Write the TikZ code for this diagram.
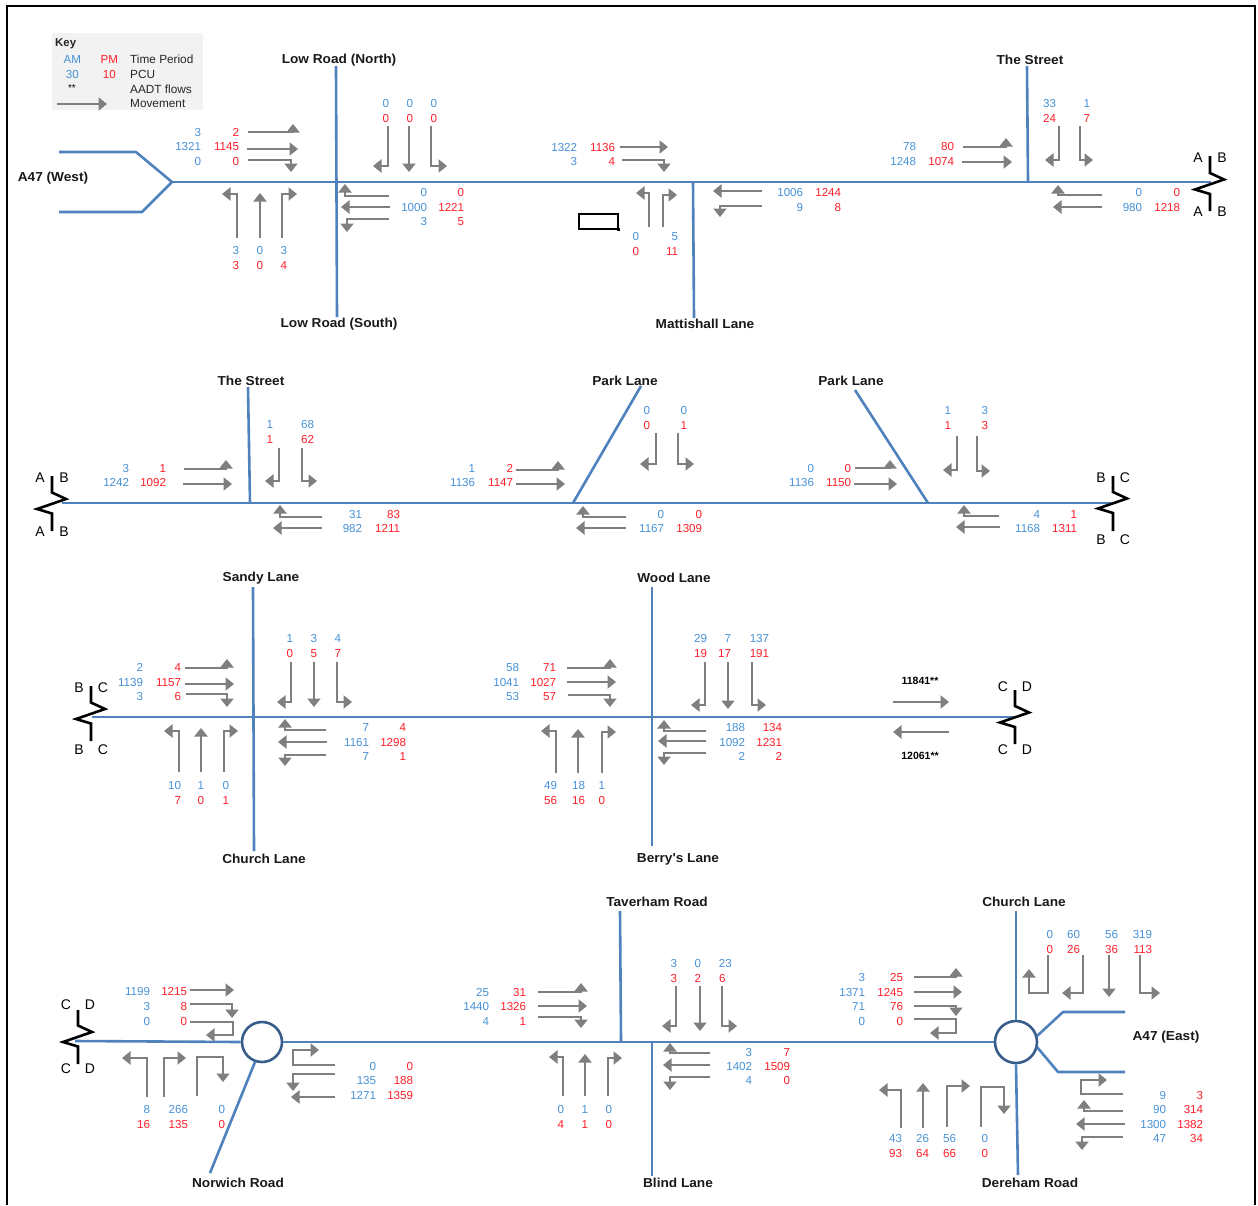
\documentclass[tikz,border=0pt]{standalone}
\usepackage{fontspec}
\usepackage{tikz}
\usetikzlibrary{arrows.meta, positioning}
\setmainfont{Liberation Sans}
\newfontfamily\roadfont[FakeStretch=1.05]{Liberation Sans}
\definecolor{roadblue}{RGB}{79,129,189}
\definecolor{ringblue}{RGB}{56,93,138}
\definecolor{amblue}{RGB}{70,145,215}
\definecolor{pmred}{RGB}{255,30,40}
\definecolor{movegray}{RGB}{127,127,127}

\begin{document}
\begin{tikzpicture}[
    x=1pt, y=-1pt,
    road/.style={draw=roadblue, line width=2.6pt, line join=round},
    ring/.style={circle, draw=ringblue, line width=2.6pt, minimum size=40pt, inner sep=0pt},
    mov/.style={draw=movegray, line width=2.8pt, -{Triangle[length=8.5pt, width=13pt]}},
    zig/.style={draw=black, line width=2.6pt, line join=miter},
    am/.style={text=amblue, inner sep=0pt, xshift=0.3pt, yshift=-0.6pt, font=\fontsize{11.6}{12}\selectfont},
    pm/.style={text=pmred, inner sep=0pt, xshift=0.3pt, yshift=-0.6pt, font=\fontsize{11.6}{12}\selectfont},
    keytext/.style={text=black!85, inner sep=0pt, anchor=west, font=\fontsize{11.8}{12}\selectfont},
    breaktext/.style={inner sep=0pt, font=\fontsize{14}{14}\selectfont},
    roadname/.style={inner sep=0pt, text=black!90, yshift=-1pt, font=\roadfont\bfseries\fontsize{13}{14}\selectfont},
    flowtext/.style={inner sep=0pt, font=\bfseries\fontsize{10.5}{12}\selectfont}
]
\useasboundingbox (0,0) rectangle (1258,1205);

% Frame
\draw[line width=2.2pt] (7,1205) -- (7,6) -- (1255,6) -- (1255,1205);

% Key
\fill[black!5] (52,33) rectangle (203,110);
\node[keytext, yshift=-1pt, font=\bfseries\fontsize{11.4}{12}\selectfont] (keyhead) at (55,43) {Key};
\node[am] (keyam) at (72,59) {AM};
\node[pm] (keypm) at (109,59) {PM};
\node[keytext] (keyperiod) at (130,59) {Time Period};
\node[am] (keyamv) at (72,74) {30};
\node[pm] (keypmv) at (109,74) {10};
\node[keytext] (keypcu) at (130,74) {PCU};
\node[inner sep=0pt, font=\fontsize{10}{10}\selectfont] (keystar) at (72,88) {**};
\node[keytext] (keyaadt) at (130,89) {AADT flows};
\node[keytext] (keymove) at (130,103) {Movement};
\draw[mov] (57,104) -- (107,104);

% Roads, first row
\draw[road] (59,152) -- (136,152) -- (172,182) -- (142,212) -- (59,212);
\draw[road] (172,182) -- (1211,182);
\draw[road] (336,66) -- (337,317);
\draw[road] (693,182) -- (694,318);
\draw[road] (1027,66) -- (1028,182);
% Roads, second row
\draw[road] (62,503) -- (1113,503);
\draw[road] (248,387) -- (250,503);
\draw[road] (641,386) -- (573,503);
\draw[road] (855,390) -- (928,503);
% Roads, third row
\draw[road] (92,717) -- (1014,717);
\draw[road] (253,587) -- (254,851);
\draw[road] (652,587) -- (652,846);
% Roads, fourth row
\node[ring] (ringwest) at (262,1042) {};
\node[ring, minimum size=42pt] (ringeast) at (1016,1042) {};
\draw[road] (75,1041) -- (ringwest.west);
\draw[road] (ringwest.east) -- (ringeast.west);
\draw[road] (620,911) -- (621,1041);
\draw[road] (652,1041) -- (652,1176);
\draw[road] (1016,911) -- (ringeast.north);
\draw[road] (ringeast.south) -- (1018,1175);
\draw[road] (255,1062) -- (210,1173);
\draw[road] (1037,1036) -- (1063,1012) -- (1125,1012);
\draw[road] (1037,1047) -- (1058,1072) -- (1125,1072);

% Road breaks
\foreach \cx/\cy/\top/\bot/\ly/\lz/\l/\r in {1210/184.5/156/211/158/212/A/B, 52/504/476/531/478/532/A/B,
    1113/503.5/476/531/478/540/B/C, 91/714/686/741/688/750/B/C,
    1015/717.5/690/744/687/750/C/D, 78/1037/1010/1064/1005/1069/C/D} {
  \draw[zig] (\cx,\top) -- (\cx,\cy-11.5) -- (\cx+14,\cy-5) -- (\cx-15,\cy+5) -- (\cx,\cy+9.5) -- (\cx,\bot);
  \node[breaktext] (brk\cx tl) at (\cx-12,\ly) {\l};
  \node[breaktext] (brk\cx tr) at (\cx+12,\ly) {\r};
  \node[breaktext] (brk\cx bl) at (\cx-12,\lz) {\l};
  \node[breaktext] (brk\cx br) at (\cx+12,\lz) {\r};
}

% Road names
\foreach \x/\y/\t in {339/59/Low Road (North), 339/323/Low Road (South), 705/323/Mattishall Lane,
    1030/59/The Street, 53/177/A47 (West), 251/380/The Street, 625/380/Park Lane, 851/380/Park Lane,
    261/577/Sandy Lane, 264/858/Church Lane, 674/577/Wood Lane, 678/858/Berry's Lane,
    657/901/Taverham Road, 1024/901/Church Lane, 1166/1036/A47 (East), 238/1182/Norwich Road,
    678/1182/Blind Lane, 1030/1182/Dereham Road} {
  \node[roadname] (name\x-\y) at (\x,\y) {\t};
}

% Stray box
\node[draw=black, line width=2pt, minimum width=39pt, minimum height=15pt, inner sep=0pt] (strayb) at (598,221) {};
\fill (strayb.south east) ++(-1.5,-1.5) rectangle ++(3,3);

% Counts read across: AM edge, PM edge, rows
\foreach \xa/\xp/\rows in {
    201/239/{132/3/2,146/1321/1145,161/0/0}, 427/464/{192/0/0,207/1000/1221,221/3/5},
    577/615/{147/1322/1136,161/3/4}, 803/841/{192/1006/1244,207/9/8},
    916/954/{146/78/80,161/1248/1074}, 1142/1180/{192/0/0,207/980/1218},
    129/166/{468/3/1,482/1242/1092}, 362/400/{514/31/83,528/982/1211},
    475/513/{468/1/2,482/1136/1147}, 664/702/{514/0/0,528/1167/1309},
    814/851/{468/0/0,482/1136/1150}, 1040/1077/{514/4/1,528/1168/1311},
    143/181/{667/2/4,682/1139/1157,696/3/6}, 369/406/{727/7/4,742/1161/1298,756/7/1},
    519/556/{667/58/71,682/1041/1027,696/53/57}, 745/782/{727/188/134,742/1092/1231,756/2/2},
    150/187/{991/1199/1215,1006/3/8,1021/0/0}, 376/413/{1066/0/0,1080/135/188,1095/1271/1359},
    489/526/{992/25/31,1006/1440/1326,1021/4/1}, 752/790/{1052/3/7,1066/1402/1509,1080/4/0},
    865/903/{977/3/25,992/1371/1245,1006/71/76,1021/0/0},
    1166/1203/{1095/9/3,1109/90/314,1124/1300/1382,1138/47/34}} {
  \foreach \y/\a/\p in \rows {
    \node[am, anchor=east] (am\xa-\y) at (\xa,\y) {\a};
    \node[pm, anchor=east] (pm\xp-\y) at (\xp,\y) {\p};
  }
}

% Counts read down: edge, AM row, AM, PM
\foreach \x/\y/\a/\p in {389/103/0/0, 413/103/0/0, 437/103/0/0, 239/250/3/3, 263/250/0/0, 287/250/3/4,
    639/236/0/0, 678/236/5/11, 1056/103/33/24, 1090/103/1/7,
    273/424/1/1, 314/424/68/62, 650/410/0/0, 687/410/0/1, 951/410/1/1, 988/410/3/3,
    293/638/1/0, 317/638/3/5, 341/638/4/7, 181/785/10/7, 204/785/1/0, 229/785/0/1,
    707/638/29/19, 731/638/7/17, 769/638/137/191, 557/785/49/56, 585/785/18/16, 605/785/1/0,
    150/1109/8/16, 188/1109/266/135, 225/1109/0/0, 677/963/3/3, 701/963/0/2,
    564/1109/0/4, 588/1109/1/1, 612/1109/0/0,
    1053/934/0/0, 1080/934/60/26, 1118/934/56/36, 1152/934/319/113,
    902/1138/43/93, 929/1138/26/64, 956/1138/56/66, 988/1138/0/0} {
  \node[am, anchor=east] (amd\x-\y) at (\x,\y) {\a};
  \node[pm, anchor=east] (pmd\x-\y) at (\x,\y+15) {\p};
}
\node[am] (amtav) at (725,963) {23};
\node[pm] (pmtav) at (722,978) {6};

% Movements, Low Road
\draw[mov] (248,132) -- (293,132) -- (293,124);
\draw[mov] (247,149) -- (298,149);
\draw[mov] (248,160) -- (291,160) -- (291,172);
\draw[mov] (388,126) -- (388,166) -- (373,166);
\draw[mov] (409,126) -- (409,172);
\draw[mov] (431,126) -- (431,166) -- (447,166);
\draw[mov] (237,238) -- (237,194) -- (222,194);
\draw[mov] (260,238) -- (260,193);
\draw[mov] (282,238) -- (282,194) -- (297,194);
\draw[mov] (389,196) -- (345,196) -- (345,184);
\draw[mov] (390,207) -- (341,207);
\draw[mov] (389,219) -- (347,219) -- (347,232);
% Movements, Mattishall Lane
\draw[mov] (620,147) -- (668,147);
\draw[mov] (622,160) -- (664,160) -- (664,172);
\draw[mov] (649,227) -- (649,193) -- (636,193);
\draw[mov] (663,227) -- (663,195) -- (677,195);
\draw[mov] (762,191) -- (713,191);
\draw[mov] (762,206) -- (720,206) -- (720,217);
% Movements, The Street
\draw[mov] (963,147) -- (1006,147) -- (1006,138);
\draw[mov] (962,162) -- (1012,162);
\draw[mov] (1059,126) -- (1059,160) -- (1045,160);
\draw[mov] (1080,126) -- (1080,160) -- (1093,160);
\draw[mov] (1102,195) -- (1058,195) -- (1058,185);
\draw[mov] (1102,207) -- (1053,207);
% Movements, second row
\draw[mov] (184,469) -- (226,469) -- (226,460);
\draw[mov] (183,484) -- (232,484);
\draw[mov] (279,448) -- (279,481) -- (265,481);
\draw[mov] (302,448) -- (302,481) -- (317,481);
\draw[mov] (322,517) -- (280,517) -- (280,505);
\draw[mov] (322,528) -- (273,528);
\draw[mov] (516,470) -- (558,470) -- (558,461);
\draw[mov] (516,484) -- (565,484);
\draw[mov] (656,433) -- (656,464) -- (640,464);
\draw[mov] (678,433) -- (678,464) -- (694,464);
\draw[mov] (626,517) -- (583,517) -- (583,506);
\draw[mov] (626,528) -- (576,528);
\draw[mov] (855,468) -- (890,468) -- (890,460);
\draw[mov] (854,484) -- (897,484);
\draw[mov] (957,436) -- (957,470) -- (943,470);
\draw[mov] (977,436) -- (977,471) -- (990,471);
\draw[mov] (999,516) -- (964,516) -- (964,505);
\draw[mov] (1000,527) -- (956,527);
% Movements, Sandy Lane
\draw[mov] (185,668) -- (227,668) -- (227,659);
\draw[mov] (185,684) -- (234,684);
\draw[mov] (186,694) -- (227,694) -- (227,707);
\draw[mov] (291,662) -- (291,702) -- (277,702);
\draw[mov] (314,662) -- (314,707);
\draw[mov] (337,662) -- (337,702) -- (352,702);
\draw[mov] (179,772) -- (179,731) -- (164,731);
\draw[mov] (201,772) -- (201,728);
\draw[mov] (224,772) -- (224,731) -- (238,731);
\draw[mov] (326,730) -- (285,730) -- (285,719);
\draw[mov] (327,742) -- (278,742);
\draw[mov] (326,755) -- (285,755) -- (285,766);
% Movements, Wood Lane
\draw[mov] (567,668) -- (610,668) -- (610,659);
\draw[mov] (567,682) -- (616,682);
\draw[mov] (568,695) -- (610,695) -- (610,707);
\draw[mov] (705,662) -- (705,705) -- (691,705);
\draw[mov] (728,662) -- (728,709);
\draw[mov] (752,662) -- (752,705) -- (766,705);
\draw[mov] (556,773) -- (556,731) -- (541,731);
\draw[mov] (578,773) -- (578,729);
\draw[mov] (602,773) -- (602,732) -- (616,732);
\draw[mov] (706,731) -- (664,731) -- (664,720);
\draw[mov] (706,741) -- (658,741);
\draw[mov] (706,753) -- (664,753) -- (664,765);
% AADT flows
\node[flowtext] (flowtop) at (920,681) {11841**};
\node[flowtext] (flowbot) at (920,756) {12061**};
\draw[mov] (893,702) -- (949,702);
\draw[mov] (949,732) -- (893,732);
% Movements, Norwich Road
\draw[mov] (190,990) -- (234,990);
\draw[mov] (190,1004) -- (232,1004) -- (232,1018);
\draw[mov] (190,1022) -- (233,1022) -- (233,1035) -- (206,1035);
\draw[mov] (147,1097) -- (147,1058) -- (122,1058);
\draw[mov] (164,1097) -- (164,1058) -- (186,1058);
\draw[mov] (197,1096) -- (197,1057) -- (223,1057) -- (223,1082);
\draw[mov] (335,1065) -- (293,1065) -- (293,1050) -- (319,1050);
\draw[mov] (335,1074) -- (293,1074) -- (293,1091);
\draw[mov] (335,1097) -- (291,1097);
% Movements, Taverham Road
\draw[mov] (538,992) -- (581,992) -- (581,983);
\draw[mov] (538,1006) -- (587,1006);
\draw[mov] (538,1017) -- (581,1017) -- (581,1028);
\draw[mov] (676,986) -- (676,1026) -- (662,1026);
\draw[mov] (700,986) -- (700,1031);
\draw[mov] (722,986) -- (722,1026) -- (737,1026);
\draw[mov] (563,1096) -- (563,1057) -- (549,1057);
\draw[mov] (585,1096) -- (585,1054);
\draw[mov] (608,1096) -- (608,1058) -- (622,1058);
\draw[mov] (710,1053) -- (670,1053) -- (670,1043);
\draw[mov] (710,1065) -- (663,1065);
\draw[mov] (710,1077) -- (670,1077) -- (670,1090);
% Movements, Church Lane and Dereham Road
\draw[mov] (914,977) -- (956,977) -- (956,968);
\draw[mov] (914,992) -- (962,992);
\draw[mov] (914,1006) -- (956,1006) -- (956,1016);
\draw[mov] (914,1019) -- (956,1019) -- (956,1033) -- (930,1033);
\draw[mov] (1048,955) -- (1048,993) -- (1029,993) -- (1029,969);
\draw[mov] (1083,955) -- (1083,993) -- (1062,993);
\draw[mov] (1109,955) -- (1109,997);
\draw[mov] (1140,955) -- (1140,993) -- (1160,993);
\draw[mov] (901,1128) -- (901,1090) -- (879,1090);
\draw[mov] (923,1128) -- (923,1083);
\draw[mov] (947,1127) -- (947,1086) -- (970,1086);
\draw[mov] (981,1127) -- (981,1087) -- (1004,1087) -- (1004,1114);
\draw[mov] (1123,1094) -- (1081,1094) -- (1081,1080) -- (1107,1080);
\draw[mov] (1123,1111) -- (1084,1111) -- (1084,1100);
\draw[mov] (1125,1124) -- (1076,1124);
\draw[mov] (1123,1137) -- (1082,1137) -- (1082,1150);
\end{tikzpicture}
\end{document}
